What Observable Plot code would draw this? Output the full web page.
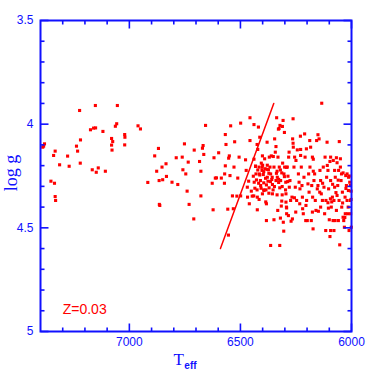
<!DOCTYPE html>
<html><head><meta charset="utf-8">
<script src="https://cdn.jsdelivr.net/npm/d3@7"></script>
<script src="https://cdn.jsdelivr.net/npm/@observablehq/plot@0.6"></script>
<style>body{margin:0;background:#fff}#chart{width:371px;height:371px}</style>
</head><body><div id="chart"></div>
<script>
// Effective temperature (K) and surface gravity of each star
const teff = [
7390,7382,7386,7341,7334,7353,7337,7334,7332,7314,7278,7271,7238,7233,7221,7224,7220,7175,7167,7161,
7153,7152,7149,7140,7119,7108,7080,7075,7080,7078,7063,7057,7054,7021,7020,7021,6961,6950,6917,6886,
6877,6869,6866,6865,6863,6850,6853,6835,6833,6808,6789,6782,6762,6759,6752,6746,6740,6735,6731,6710,
6708,6684,6678,6678,6671,6668,6665,6657,6627,6623,6619,6613,6608,6598,6586,6572,6571,6568,6568,6565,
6557,6554,6553,6550,6547,6544,6536,6529,6526,6512,6506,6499,6499,6516,6532,
6477,6474,6469,6463,6460,6457,6457,6451,6447,6442,6439,6439,6438,6435,6432,6430,6425,6424,6422,6419,
6416,6415,6413,6410,6409,6406,6403,6401,6400,6397,6395,6394,6391,6389,6386,6383,6383,6380,6379,6379,
6376,6374,6371,6370,6367,6364,6361,6359,6356,6356,6352,6349,6346,6343,6340,6340,6337,6335,6334,6331,
6329,6328,6326,6325,6323,6322,6320,6319,6316,6314,6311,6310,6308,6307,6305,6304,6302,6301,6296,6295,
6293,6292,6289,6286,6283,6281,6280,6277,6274,6272,6268,6266,6265,6263,6262,6259,6257,6256,6253,6251,
6250,6247,6244,6239,6236,6233,6232,6229,6226,6223,6221,6220,6217,6214,6211,6209,6206,6203,6202,6199,
6196,6193,6191,6188,6187,6184,6181,6179,6176,6175,6173,6172,6169,6166,6163,6160,6157,6154,6151,6149,
6146,6143,6142,6139,6136,6134,6131,6130,6127,6124,6121,6119,6116,6115,6112,6110,6109,6106,6103,6100,
6097,6097,6094,6091,6089,6086,6083,6082,6079,6076,6074,6073,6068,6065,6062,6059,6056,6053,6050,6047,
6044,6041,6038,6035,6032,6029,6026,6023,6020,6017,6014,6011,6008,6005,6004,6002,6001,
6055,6151,6050,6038,6230,6263,6229,6172,6068,6065,6094,6076,6058,6020,6013,6005,6002,6028,6079,6094,
6106,6104,6139,6176,6205,6295,6292,6284,6314,6332,6364,6323,6349,6385,6401,6424,6416,6468,
6432,6422,6413,6402,6395,6387,6380,6372,6428,6418,6407,6395,6383,6365,6357,6347,6338,6328,6320,6312,
6302,6293,6287,6425,6440,6372,6353,6335,6312,6297,
6010,6025,6040,6060,6070,6085,6095,6045,6015,6030
];
const logg = [
4.111,4.095,4.106,4.151,4.130,4.275,4.285,4.349,4.368,4.196,4.154,4.203,4.106,4.130,4.188,3.934,4.076,4.027,4.220,4.019,
3.910,4.018,4.232,4.211,4.035,4.227,4.069,4.084,4.101,4.125,4.010,3.998,3.910,4.050,4.063,4.100,4.008,4.023,4.281,4.153,
4.227,4.117,4.272,4.387,4.392,4.268,4.207,4.191,4.252,4.280,4.162,4.291,4.159,4.220,4.095,4.240,4.323,4.183,4.387,4.457,
4.125,4.180,4.346,4.227,4.116,4.103,4.146,4.006,4.285,4.413,4.162,4.260,4.259,4.138,4.260,4.285,4.240,4.201,4.050,4.098,
4.410,4.535,4.164,4.153,4.248,4.008,4.346,4.207,4.085,4.260,4.159,3.995,4.346,4.347,4.408,
4.172,4.223,4.304,4.275,4.384,3.969,4.079,4.323,4.347,4.251,4.002,4.169,4.280,4.309,4.204,4.240,4.098,4.413,4.122,4.014,
4.207,4.240,4.063,4.272,4.296,4.188,4.223,4.153,4.198,4.243,4.283,4.320,4.167,4.215,4.375,4.384,4.465,4.087,4.256,4.198,
4.275,4.220,4.307,4.159,4.207,4.240,4.153,4.267,4.291,4.336,4.156,4.207,4.071,4.135,4.108,4.272,3.969,4.227,4.256,4.159,
4.024,4.281,4.021,4.207,4.307,4.006,4.453,4.272,4.395,4.235,4.011,4.188,3.982,4.473,4.516,4.240,4.040,4.207,4.280,4.336,
4.400,4.432,4.207,4.251,4.159,4.135,4.304,4.272,4.368,4.468,4.352,4.457,4.071,3.974,4.111,4.207,4.355,4.159,4.304,4.424,
4.175,4.368,4.124,4.240,4.280,4.384,4.312,4.151,4.207,4.296,4.352,4.408,4.432,4.256,4.047,4.159,4.465,4.119,4.368,4.465,
4.288,4.240,4.328,4.079,4.207,4.111,4.465,4.296,4.159,4.352,4.505,4.227,4.272,4.240,4.368,4.416,4.079,4.312,4.296,4.420,
4.071,4.328,4.223,4.272,4.336,3.899,4.368,4.285,4.207,4.304,4.432,4.159,4.513,4.368,4.256,4.087,4.199,4.223,4.312,4.461,
4.542,4.180,4.272,4.400,4.375,4.352,4.465,4.175,4.368,4.304,4.465,4.256,4.416,4.344,4.296,4.465,4.368,4.582,4.207,4.272,
4.400,4.328,4.449,4.465,4.497,4.352,4.248,4.296,4.368,4.432,4.320,4.513,4.280,4.368,4.432,4.323,4.497,
4.084,4.051,4.167,4.235,4.058,4.092,4.122,4.169,4.162,4.186,4.159,4.223,4.223,4.240,4.256,4.296,4.363,4.432,4.513,4.513,
4.379,4.405,4.400,4.424,4.392,4.376,4.404,4.441,4.371,4.416,4.585,4.585,4.461,4.317,4.336,4.352,4.363,4.352,
4.202,4.221,4.245,4.208,4.229,4.261,4.218,4.237,4.269,4.285,4.309,4.317,4.293,4.277,4.256,4.301,4.237,4.266,4.221,4.301,
4.253,4.208,4.277,4.317,4.346,4.333,4.317,4.341,4.341,4.317,
4.250,4.310,4.380,4.270,4.330,4.290,4.360,4.240,4.400,4.450
];
// The straight red line
const lineTeff = [6590, 6350];
const lineLogg = [4.60, 3.90];
// Axis ticks
const xMajor = [7000, 6500, 6000];
const xMinor = [7300, 7200, 7100, 6900, 6800, 6700, 6600, 6400, 6300, 6200, 6100];
const yMajor = [3.5, 4, 4.5, 5];
const yMinor = [3.6, 3.7, 3.8, 3.9, 4.1, 4.2, 4.3, 4.4, 4.6, 4.7, 4.8, 4.9];
const note = "Z=0.03";

const stars = teff.map((t, i) => ({teff: t, logg: logg[i]}));
const line = lineTeff.map((t, i) => ({teff: t, logg: lineLogg[i]}));
const blue = "#1010ff", red = "#ff0000";

const W = 371, H = 371, mL = 40, mR = 20, mT = 20, mB = 40;
const xDom = [7400, 6000], yDom = [3.5, 5];
const innerW = W - mL - mR, innerH = H - mT - mB;
const dxPx = (xDom[0] - xDom[1]) / innerW;   // K per px
const dyPx = (yDom[1] - yDom[0]) / innerH;   // dex per px
// inward ticks drawn as links through the plot scales
const ticksX = (data, side, len) => Plot.link(data, {
  x1: d => d, x2: d => d,
  y1: side === "bottom" ? yDom[1] : yDom[0],
  y2: side === "bottom" ? yDom[1] - len * dyPx : yDom[0] + len * dyPx,
  stroke: blue, strokeWidth: 1.6
});
const ticksY = (data, side, len) => Plot.link(data, {
  y1: d => d, y2: d => d,
  x1: side === "left" ? xDom[0] : xDom[1],
  x2: side === "left" ? xDom[0] - len * dxPx : xDom[1] + len * dxPx,
  stroke: blue, strokeWidth: 1.6
});

const plot = Plot.plot({
  width: W, height: H,
  marginLeft: mL, marginRight: mR, marginTop: mT, marginBottom: mB,
  style: {fontFamily: "'Liberation Sans', Arial, Helvetica, sans-serif", fontSize: "12px", background: "white"},
  x: {domain: xDom},
  y: {domain: yDom, reverse: true},
  marks: [
    Plot.axisX(xMajor, {anchor: "bottom", tickSize: 0, tickPadding: 6, fill: blue, label: null, tickFormat: d => String(d)}),
    Plot.axisY(yMajor, {anchor: "left", tickSize: 0, tickPadding: 7, fill: blue, label: null, tickFormat: d => String(d)}),
    Plot.dot(stars, {x: "teff", y: "logg", symbol: "square", r: 1.75, fill: red, stroke: "none"}),
    Plot.line(line, {x: "teff", y: "logg", stroke: red, strokeWidth: 1.5}),
    Plot.text([note], {x: 7300, y: 4.895, text: d => d, textAnchor: "start", fill: red, fontSize: 14}),
    Plot.frame({stroke: blue, strokeWidth: 2}),
    ticksX(xMajor, "bottom", 8), ticksX(xMinor, "bottom", 4),
    ticksX(xMajor, "top", 8), ticksX(xMinor, "top", 4),
    ticksY(yMajor, "left", 8), ticksY(yMinor, "left", 4),
    ticksY(yMajor, "right", 8), ticksY(yMinor, "right", 4)
  ]
});
document.getElementById("chart").appendChild(plot);

// Axis titles with subscript / serif faces
const svg = d3.select(plot);
const xt = svg.append("text").attr("x", 185).attr("y", 365).attr("fill", blue)
  .style("font-family", "'Liberation Serif', 'Times New Roman', serif").style("font-size", "17px");
xt.append("tspan").text("T");
xt.append("tspan").attr("dy", 4).attr("dx", 0.5)
  .style("font-family", "'Liberation Sans', Arial, sans-serif").style("font-size", "10px").style("font-weight", "bold").text("eff");
svg.append("text").attr("transform", "translate(17,173) rotate(-90)").attr("text-anchor", "middle").attr("fill", blue)
  .style("font-family", "'Liberation Serif', 'Times New Roman', serif").style("font-size", "18px")
  .text("log g");
</script></body></html>
